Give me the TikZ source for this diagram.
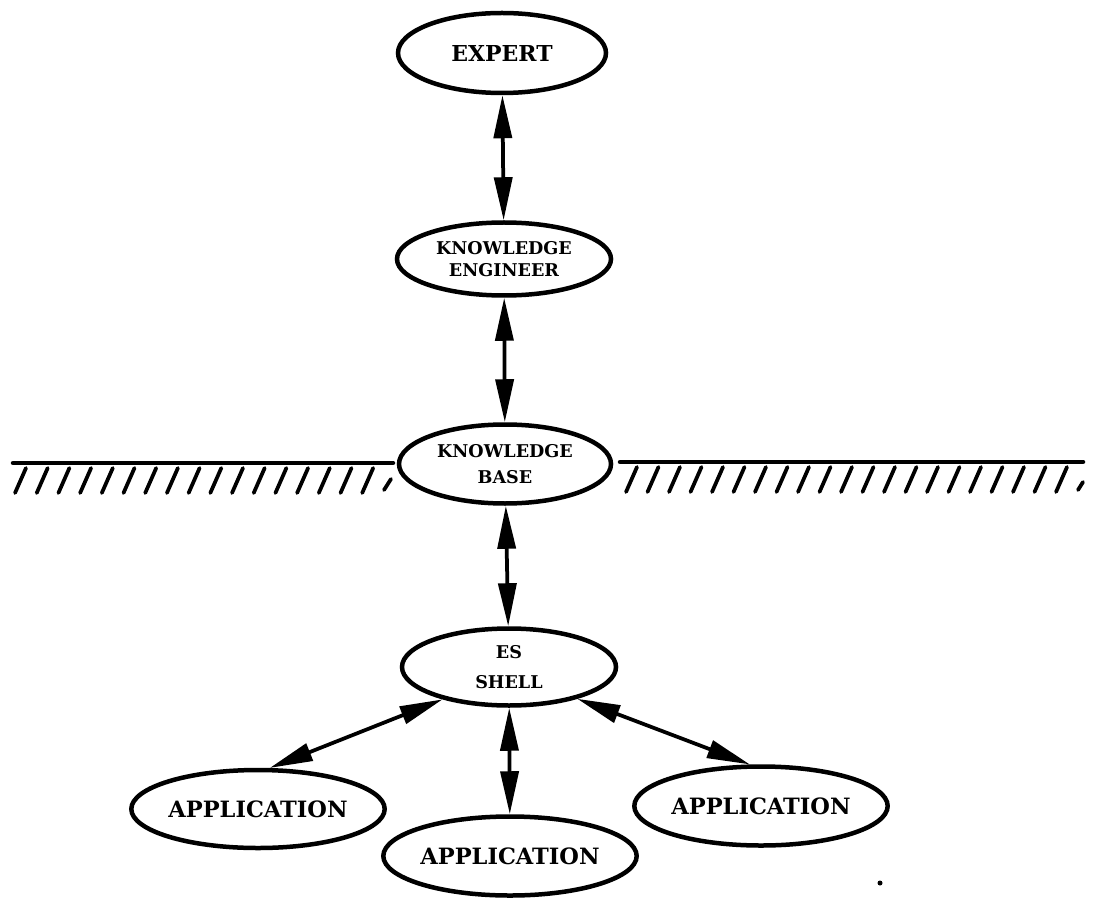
\documentclass[tikz,border=0pt]{standalone}
\usepackage{fontspec}
\setmainfont{DejaVu Serif}
\usetikzlibrary{arrows.meta,shapes.geometric}

\begin{document}
\begin{tikzpicture}[x=0.2mm, y=-0.2mm,
  box/.style={shape=ellipse, draw=black, line width=0.9mm, inner sep=0pt, align=center},
  link/.style={{Triangle[length=8.6mm,width=3.6mm]}-{Triangle[length=8.6mm,width=3.6mm]}, line width=0.75mm, draw=black},
  ground/.style={line width=0.9mm, line cap=round},
  hatch/.style={line width=0.75mm, line cap=round}]
\useasboundingbox (0,0) rectangle (1096,898);
\node[box, minimum width=41.6mm, minimum height=16mm, font=\bfseries\fontsize{12.5}{15}\selectfont] (expert) at (502,53) {EXPERT};
\node[box, minimum width=42.8mm, minimum height=14.6mm, font=\bfseries\fontsize{10}{12.5}\selectfont] (ke) at (504,259) {KNOWLEDGE\\ENGINEER};
\node[box, minimum width=42.4mm, minimum height=15.8mm, font=\bfseries\fontsize{10}{15}\selectfont] (kb) at (505,464) {KNOWLEDGE\\BASE};
\node[box, minimum width=42.8mm, minimum height=15.4mm, font=\bfseries\fontsize{10}{17.5}\selectfont] (es) at (509,667) {ES\\SHELL};
\node[box, minimum width=44mm, minimum height=15.6mm, font=\bfseries\fontsize{12.8}{15}\selectfont] (appl) at (258,809) {APPLICATION};
\node[box, minimum width=42.4mm, minimum height=15.8mm, font=\bfseries\fontsize{12.8}{15}\selectfont] (appm) at (510,856) {APPLICATION};
\node[box, minimum width=43.8mm, minimum height=15.8mm, font=\bfseries\fontsize{12.8}{15}\selectfont] (appr) at (761,806) {APPLICATION};
\draw[link] (expert) -- (ke);
\draw[link] (ke) -- (kb);
\draw[link] (kb) -- (es);
\draw[link] (es) -- (appm);
\draw[link] (es.206) -- (appl.74);
\draw[link] (es.-25) -- (appr.105);
\draw[ground] (13,463) -- (393,463);
\foreach \i in {0,...,16} \draw[hatch] ({15+21.7*\i},493) -- ++(11,-25);
\draw[hatch] (384,490) -- ++(7,-11);
\draw[ground] (620,462) -- (1083,462);
\foreach \i in {0,...,20} \draw[hatch] ({626+21.5*\i},492) -- ++(11,-25);
\draw[hatch] (1078,490) -- ++(5,-8);
\fill (880,883) circle[radius=2.5];
\end{tikzpicture}
\end{document}
